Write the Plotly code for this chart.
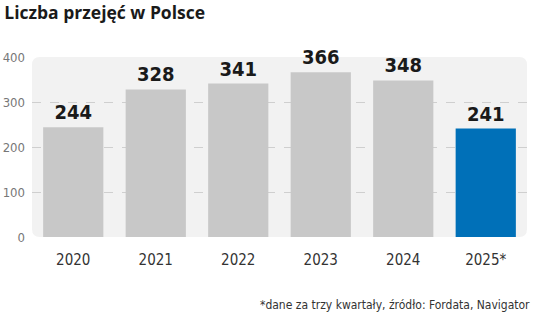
import plotly.graph_objects as go

years = ["2020", "2021", "2022", "2023", "2024", "2025*"]
values = [244, 328, 341, 366, 348, 241]
bar_colors = ["#c8c8c8", "#c8c8c8", "#c8c8c8", "#c8c8c8", "#c8c8c8", "#0070b8"]
y_ticks = [0, 100, 200, 300, 400]

COND = "DejaVu Sans Condensed"

fig = go.Figure()
fig.add_trace(go.Bar(
    x=years, y=values,
    marker=dict(color=bar_colors, line=dict(width=0)),
    width=0.73,
    text=[str(v) for v in values],
    textposition="outside",
    cliponaxis=False,
    textfont=dict(family=COND, size=20, color="#1a1a1a", weight="bold"),
    hoverinfo="skip",
))

W, H = 495.0, 180.0
rx, ry = 8 / W, 8 / H
path = (f"M {rx},0 L {1-rx},0 Q 1,0 1,{ry} L 1,{1-ry} Q 1,1 {1-rx},1 "
        f"L {rx},1 Q 0,1 0,{1-ry} L 0,{ry} Q 0,0 {rx},0 Z")
fig.add_shape(type="path", xref="paper", yref="paper", path=path,
              fillcolor="#f2f2f2", line=dict(width=0), layer="below")

fig.update_layout(
    width=536, height=317,
    margin=dict(l=32, r=9, t=57, b=80, autoexpand=False),
    paper_bgcolor="white", plot_bgcolor="rgba(0,0,0,0)",
    showlegend=False,
    bargap=0.27,
    title=dict(text="<b>Liczba przejęć w Polsce</b>", x=0.008, xanchor="left", y=0.958, yanchor="middle",
               font=dict(family="Open Sans, sans-serif", size=17.5, color="#1a1a1a")),
    xaxis=dict(showgrid=False, showline=False, ticks="", range=[-0.5, 5.5], automargin=False,
               ticklabelstandoff=12,
               tickfont=dict(family=COND, size=15, color="#333333")),
    yaxis=dict(range=[0, 400], tickvals=y_ticks, showgrid=True, gridcolor="#cfcfcf", griddash="dash",
               gridwidth=1, zeroline=False, showline=False, ticks="", ticklabelstandoff=6, automargin=False,
               tickfont=dict(family=COND, size=13, color="#777777")),
    annotations=[dict(text="*dane za trzy kwartały, źródło: Fordata, Navigator", xref="paper", yref="paper",
                      x=1.01, y=-0.375, xanchor="right", yanchor="middle", showarrow=False,
                      font=dict(family=COND, size=12, color="#333333"))],
)

fig.write_html("out.html")
